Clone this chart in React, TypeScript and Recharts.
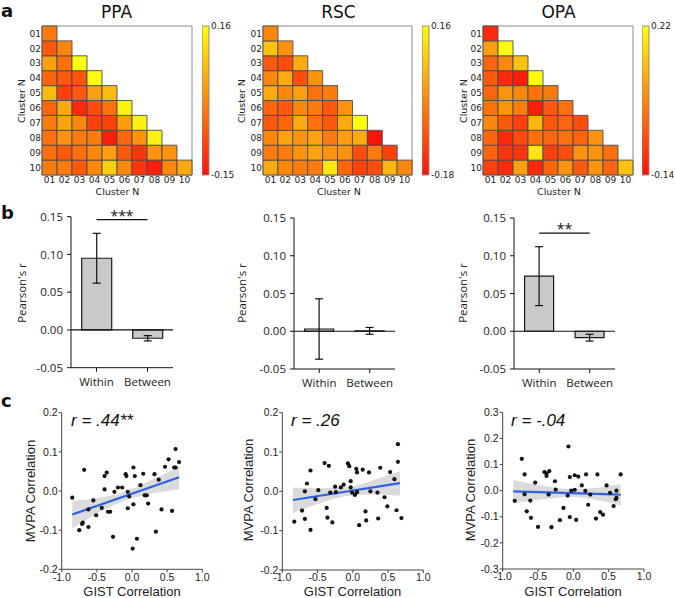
import React from 'react';
import {
  BarChart, Bar, XAxis, YAxis, Cell, ReferenceArea, ReferenceLine, ErrorBar,
  ComposedChart, Scatter, Line, Area,
} from 'recharts';

// ---------- heatmap data (panel a) ----------
const clusterLabels = ['01', '02', '03', '04', '05', '06', '07', '08', '09', '10'];

const ppaMatrix = [
  [-0.011],
  [-0.057, 0.005],
  [0.036, -0.026, 0.16],
  [-0.042, -0.057, -0.063, 0.16],
  [0.073, -0.088, -0.057, 0.036, 0.073],
  [-0.042, 0.052, -0.119, -0.073, -0.026, 0.145],
  [-0.011, 0.042, 0.005, -0.088, -0.088, 0.036, 0.145],
  [-0.026, 0.021, -0.011, -0.011, -0.134, -0.042, 0.021, 0.145],
  [-0.026, -0.057, -0.026, 0.005, 0.036, -0.057, -0.104, 0.021, 0.021],
  [-0.011, -0.011, -0.057, 0.005, 0.098, 0.005, -0.104, -0.134, 0.005, 0.052],
];
const rscMatrix = [
  [-0.01],
  [0.075, 0.007],
  [-0.078, -0.095, 0.041],
  [-0.01, 0.041, -0.095, 0.007],
  [0.041, -0.01, 0.024, -0.044, -0.027],
  [-0.061, -0.078, -0.01, -0.027, -0.078, 0.007],
  [-0.078, -0.061, 0.041, -0.044, -0.078, 0.041, 0.16],
  [-0.01, 0.031, 0.007, 0.031, -0.027, 0.024, 0.041, -0.18],
  [-0.027, -0.027, 0.007, 0.031, 0.007, 0.007, -0.095, -0.027, -0.112],
  [0.041, -0.01, -0.027, -0.027, 0.126, -0.061, -0.112, -0.095, 0.058, -0.01],
];
const opaMatrix = [
  [-0.104],
  [0.076, 0.22],
  [-0.014, 0.04, 0.13],
  [-0.032, -0.104, -0.122, 0.22],
  [-0.014, 0.058, 0.04, 0.004, 0.022],
  [0.004, 0.058, 0.022, -0.122, -0.032, 0.004],
  [0.04, -0.032, -0.068, 0.112, -0.032, -0.014, -0.05],
  [-0.014, -0.104, -0.05, 0.004, -0.014, 0.004, -0.014, 0.058],
  [-0.014, -0.086, -0.086, 0.184, -0.068, -0.05, 0.058, 0.058, 0.004],
  [-0.068, -0.104, 0.076, -0.104, -0.014, 0.058, -0.032, 0.058, -0.014, 0.13],
];
const ppaRange = [-0.15, 0.16];
const rscRange = [-0.18, 0.16];
const opaRange = [-0.14, 0.22];

// ---------- bar data (panel b) ----------
const barCategories = ['Within', 'Between'];
const barTicks = [-0.05, 0, 0.05, 0.1, 0.15];
const ppaBarMeans = [0.095, -0.011];
const ppaBarErrs = [0.033, 0.0035];
const rscBarMeans = [0.003, 0.0005];
const rscBarErrs = [0.04, 0.0045];
const opaBarMeans = [0.073, -0.0085];
const opaBarErrs = [0.039, 0.0045];

// ---------- scatter data (panel c) ----------
const gistTicks = [-1, -0.5, 0, 0.5, 1];
const ppaGist = [-0.85, -0.75, -0.71, -0.70, -0.68, -0.62, -0.62, -0.55, -0.51, -0.43, -0.39, -0.36, -0.39, -0.34, -0.31, -0.27, -0.25, -0.20, -0.14, -0.09, -0.08, -0.06, -0.06, -0.04, 0.02, 0.04, 0.02, 0.01, 0.07, 0.12, 0.16, 0.18, 0.21, 0.23, 0.32, 0.34, 0.38, 0.42, 0.47, 0.52, 0.57, 0.60, 0.62, 0.62, 0.67];
const ppaMvpa = [-0.017, -0.100, -0.084, -0.081, 0.054, -0.092, -0.047, -0.024, -0.062, -0.043, 0.038, 0.047, 0.004, -0.053, -0.053, -0.117, -0.002, 0.009, 0.009, 0.043, 0.038, -0.044, -0.002, -0.014, 0.060, 0.038, -0.034, -0.147, -0.122, 0.015, 0.044, -0.011, -0.011, -0.032, 0.043, -0.104, 0.029, -0.047, 0.062, 0.081, -0.051, 0.060, 0.060, 0.107, 0.074];
const ppaFitX = [-0.85, 0.67];
const ppaFitY = [-0.06, 0.035];
const ppaBandX = [-0.85, -0.5, -0.1, 0.3, 0.67];
const ppaBandLo = [-0.095, -0.058, -0.025, -0.006, 0.004];
const ppaBandHi = [-0.025, -0.018, -0.001, 0.030, 0.062];

const rscGist = [-0.83, -0.72, -0.68, -0.68, -0.65, -0.60, -0.60, -0.53, -0.49, -0.40, -0.37, -0.36, -0.34, -0.32, -0.29, -0.25, -0.24, -0.17, -0.13, -0.07, -0.05, -0.03, -0.03, -0.01, 0.03, 0.05, 0.06, 0.06, 0.09, 0.14, 0.18, 0.19, 0.23, 0.25, 0.35, 0.36, 0.39, 0.45, 0.49, 0.53, 0.59, 0.62, 0.64, 0.64, 0.69];
const rscMvpa = [-0.077, -0.049, -0.070, 0.0, 0.020, 0.053, -0.098, -0.020, 0.003, 0.072, -0.042, -0.067, 0.065, -0.003, -0.079, 0.012, -0.002, 0.010, 0.017, 0.071, 0.064, 0.026, 0.010, -0.003, -0.009, 0.057, 0.048, -0.002, -0.086, 0.055, -0.051, -0.074, 0.048, 0.0, -0.003, -0.069, 0.060, -0.015, -0.038, 0.049, 0.031, -0.048, 0.075, 0.120, -0.068];
const rscFitX = [-0.85, 0.67];
const rscFitY = [-0.022, 0.021];
const rscBandX = [-0.85, -0.5, -0.05, 0.3, 0.67];
const rscBandLo = [-0.055, -0.032, -0.011, -0.008, -0.011];
const rscBandHi = [0.010, 0.008, 0.012, 0.029, 0.051];

const opaGist = [-0.83, -0.73, -0.69, -0.69, -0.66, -0.61, -0.60, -0.54, -0.50, -0.41, -0.38, -0.38, -0.34, -0.35, -0.31, -0.26, -0.25, -0.19, -0.14, -0.08, -0.07, -0.05, -0.05, -0.03, 0.02, 0.02, 0.04, 0.07, 0.12, 0.17, 0.18, 0.21, 0.24, 0.32, 0.34, 0.38, 0.42, 0.47, 0.52, 0.57, 0.60, 0.61, 0.61, 0.67];
const opaMvpa = [-0.039, 0.122, 0.062, -0.014, -0.079, -0.038, -0.104, 0.031, -0.139, 0.071, 0.066, 0.056, 0.075, -0.015, -0.140, 0.036, 0.004, -0.113, -0.066, -0.019, 0.169, 0.052, -0.101, 0.0, 0.059, 0.003, -0.112, 0.054, 0.020, -0.001, 0.062, -0.054, -0.015, -0.107, 0.062, -0.082, -0.092, 0.020, -0.008, -0.059, -0.033, -0.028, 0.0, 0.062];
const opaFitX = [-0.85, 0.67];
const opaFitY = [-0.003, -0.015];
const opaBandX = [-0.85, -0.4, -0.05, 0.3, 0.67];
const opaBandLo = [-0.048, -0.032, -0.024, -0.034, -0.057];
const opaBandHi = [0.041, 0.018, 0.006, 0.010, 0.025];

// ---------- helpers ----------
const DV = 'DejaVu Sans';
const OS = 'Open Sans';
const AR = 'Liberation Sans';

function autumn(v: number | null, lo: number, hi: number) {
  if (v == null) return 'none';
  const t = Math.max(0, Math.min(1, (v - lo) / (hi - lo)));
  const g = Math.round(18 + 234 * t);
  return `rgb(252,${g},${Math.round(12 + 6 * t)})`;
}

function buildHeat(matrix: number[][]) {
  return clusterLabels.map((lab, j) => {
    const row: any = { col: lab };
    for (let i = 0; i < 10; i++) {
      row[`r${i}`] = i >= j ? 1 : 0;
      row[`v${i}`] = i >= j ? matrix[i][j] : null;
    }
    return row;
  });
}

const rowOrder = [9, 8, 7, 6, 5, 4, 3, 2, 1, 0];
const rowTicks = [9.5, 8.5, 7.5, 6.5, 5.5, 4.5, 3.5, 2.5, 1.5, 0.5];

function Heatmap({ matrix, range, left, plotLeft, plotRight }: any) {
  const data = buildHeat(matrix);
  const [lo, hi] = range;
  return (
    <div style={{ position: 'absolute', left, top: 0 }}>
      <BarChart width={225} height={200} data={data} barCategoryGap={0}
        margin={{ top: 26, right: 225 - plotRight, left: 0, bottom: 0 }}>
        <XAxis dataKey="col" type="category" height={25} tickLine={false} axisLine={false}
          tickSize={0} tickMargin={2} interval={0}
          tick={{ fontSize: 9, fill: '#222', fontFamily: DV }} />
        <YAxis type="number" domain={[0, 10]} ticks={rowTicks} width={plotLeft} interval={0}
          tickLine={false} axisLine={false} tickSize={0} tickMargin={1}
          tickFormatter={(v: number) => clusterLabels[9 - Math.floor(v)]}
          tick={{ fontSize: 9, fill: '#222', fontFamily: DV }} />
        {rowOrder.map((i) => (
          <Bar key={i} dataKey={`r${i}`} stackId="s" isAnimationActive={false}
            stroke="#4d4d4d" strokeWidth={0.9}>
            {data.map((d: any, j: number) => (
              <Cell key={j} fill={autumn(d[`v${i}`], lo, hi)} />
            ))}
          </Bar>
        ))}
        <ReferenceArea x1="01" x2="10" y1={0} y2={10} fill="none" stroke="#8c8c8c"
          strokeWidth={1} ifOverflow="visible" />
      </BarChart>
    </div>
  );
}

function Colorbar({ range, left, id }: any) {
  const data = [{ name: 'cb', span: range }];
  return (
    <div style={{ position: 'absolute', left, top: 0 }}>
      <BarChart width={42} height={200} data={data} barCategoryGap={0}
        margin={{ top: 26, right: 0, left: 0, bottom: 25 }}>
        <defs>
          <linearGradient id={id} x1="0" y1="0" x2="0" y2="1">
            <stop offset="0" stopColor="rgb(252,252,16)" />
            <stop offset="0.5" stopColor="rgb(252,135,14)" />
            <stop offset="1" stopColor="rgb(252,18,12)" />
          </linearGradient>
        </defs>
        <XAxis dataKey="name" hide />
        <YAxis orientation="right" type="number" domain={range} ticks={range} width={35}
          tickLine={false} axisLine={false} tickSize={0} tickMargin={2} interval={0}
          tickFormatter={(v: number) => v.toFixed(2)}
          tick={{ fontSize: 9, fill: '#222', fontFamily: DV }} />
        <Bar dataKey="span" fill={`url(#${id})`} stroke="#8c8c8c" strokeWidth={1}
          isAnimationActive={false} />
      </BarChart>
    </div>
  );
}

function PearsonBars({ means, errs, left, plotLeft, plotRight, plotTop, plotBottom, sig, sigY }: any) {
  const data = barCategories.map((c, i) => ({ cat: c, mean: means[i], err: errs[i] }));
  return (
    <div style={{ position: 'absolute', left, top: 195 }}>
      <BarChart width={225} height={200} data={data} barCategoryGap="21%"
        margin={{ top: plotTop, right: 225 - plotRight, left: 0, bottom: 0 }}>
        <XAxis dataKey="cat" height={200 - plotBottom} tickSize={4} tickMargin={6} interval={0}
          stroke="#111" tick={{ fontSize: 11.5, fill: '#222', fontFamily: OS }} />
        <YAxis type="number" domain={[-0.05, 0.15]} ticks={barTicks} width={plotLeft} interval={0}
          tickSize={4} tickMargin={4} stroke="#111"
          tickFormatter={(v: number) => v.toFixed(2)}
          tick={{ fontSize: 11.5, fill: '#222', fontFamily: OS }} />
        <Bar dataKey="mean" fill="#c9c9c9" stroke="#1a1a1a" strokeWidth={1.2} isAnimationActive={false}>
          <ErrorBar dataKey="err" width={4} stroke="#111" strokeWidth={1.2} direction="y" />
        </Bar>
        <ReferenceLine y={0} stroke="#111" strokeWidth={1.2} />
        {sig ? (
          <ReferenceLine segment={[{ x: 'Within', y: sigY }, { x: 'Between', y: sigY }]}
            stroke="#111" strokeWidth={1.3} ifOverflow="visible"
            label={{ value: sig, position: 'top', offset: -1, fill: '#111', fontSize: 14, fontFamily: OS }} />
        ) : null}
      </BarChart>
    </div>
  );
}

function zip(xs: number[], ys: number[]) {
  return xs.map((x, i) => ({ x, y: ys[i] }));
}

function GistScatter({ gist, mvpa, fitX, fitY, bandX, bandLo, bandHi, yTicks, left, plotLeft, plotRight, plotTop, plotBottom }: any) {
  const points = zip(gist, mvpa);
  const fit = zip(fitX, fitY);
  const band = bandX.map((x: number, i: number) => ({ x, range: [bandLo[i], bandHi[i]] }));
  const yMin = yTicks[0];
  const yMax = yTicks[yTicks.length - 1];
  return (
    <div style={{ position: 'absolute', left, top: 390 }}>
      <ComposedChart width={225} height={208}
        margin={{ top: plotTop, right: 225 - plotRight, left: 0, bottom: 0 }}>
        <XAxis dataKey="x" type="number" domain={[-1, 1]} ticks={gistTicks} height={208 - plotBottom}
          allowDataOverflow tickSize={3} tickMargin={1} interval={0} stroke="#444"
          tickFormatter={(v: number) => v.toFixed(1)}
          tick={{ fontSize: 10.5, fill: '#222', fontFamily: AR }} />
        <YAxis type="number" domain={[yMin, yMax]} ticks={yTicks} width={plotLeft}
          allowDataOverflow tickSize={3} tickMargin={1} interval={0} stroke="#444"
          tickFormatter={(v: number) => v.toFixed(1)}
          tick={{ fontSize: 10.5, fill: '#222', fontFamily: AR }} />
        <Area data={band} dataKey="range" type="monotone" stroke="none" fill="#cfcfcf"
          fillOpacity={0.75} isAnimationActive={false} />
        <Scatter data={points} dataKey="y" isAnimationActive={false}
          shape={(p: any) => <circle cx={p.cx} cy={p.cy} r={2.1} fill="#111" />} />
        <Line data={fit} dataKey="y" type="linear" stroke="#2f63e3" strokeWidth={2.2}
          dot={false} isAnimationActive={false} />
      </ComposedChart>
    </div>
  );
}

export default function App() {
  return (
    <div style={{ position: 'absolute', left: 0, top: 0, width: 675, height: 598, background: '#fff', overflow: 'hidden' }}>
      <Heatmap matrix={ppaMatrix} range={ppaRange} left={0} plotLeft={42} plotRight={192} />
      <Heatmap matrix={rscMatrix} range={rscRange} left={225} plotLeft={38} plotRight={187} />
      <Heatmap matrix={opaMatrix} range={opaRange} left={450} plotLeft={33} plotRight={183} />
      <Colorbar range={ppaRange} left={202} id="cbPPA" />
      <Colorbar range={rscRange} left={422} id="cbRSC" />
      <Colorbar range={opaRange} left={642} id="cbOPA" />

      <PearsonBars means={ppaBarMeans} errs={ppaBarErrs} left={0} plotLeft={71} plotRight={173}
        plotTop={21.7} plotBottom={172.7} sig="***" sigY={0.146} />
      <PearsonBars means={rscBarMeans} errs={rscBarErrs} left={225} plotLeft={69} plotRight={170}
        plotTop={23} plotBottom={174} />
      <PearsonBars means={opaBarMeans} errs={opaBarErrs} left={450} plotLeft={64} plotRight={165}
        plotTop={23} plotBottom={174} sig="**" sigY={0.13} />

      <GistScatter gist={ppaGist} mvpa={ppaMvpa} fitX={ppaFitX} fitY={ppaFitY}
        bandX={ppaBandX} bandLo={ppaBandLo} bandHi={ppaBandHi}
        yTicks={[-0.2, -0.1, 0, 0.1, 0.2]} left={0} plotLeft={61.7} plotRight={202.3}
        plotTop={22.7} plotBottom={179.3} />
      <GistScatter gist={rscGist} mvpa={rscMvpa} fitX={rscFitX} fitY={rscFitY}
        bandX={rscBandX} bandLo={rscBandLo} bandHi={rscBandHi}
        yTicks={[-0.2, -0.1, 0, 0.1, 0.2]} left={225} plotLeft={57.3} plotRight={198.3}
        plotTop={22.7} plotBottom={180} />
      <GistScatter gist={opaGist} mvpa={opaMvpa} fitX={opaFitX} fitY={opaFitY}
        bandX={opaBandX} bandLo={opaBandLo} bandHi={opaBandHi}
        yTicks={[-0.3, -0.2, -0.1, 0, 0.1, 0.2, 0.3]} left={450} plotLeft={52.7} plotRight={194}
        plotTop={22.3} plotBottom={179} />

      <svg width={675} height={598} style={{ position: 'absolute', left: 0, top: 0, pointerEvents: 'none' }}>
        <g fontFamily={DV} fontWeight="bold" fontSize={18} fill="#111">
          <text x={1} y={17}>a</text>
          <text x={1} y={219}>b</text>
          <text x={1} y={407}>c</text>
        </g>
        <g fontFamily={DV} fontSize={17} fill="#111" textAnchor="middle">
          <text x={116.5} y={18}>PPA</text>
          <text x={338.5} y={18}>RSC</text>
          <text x={558.5} y={18}>OPA</text>
        </g>
        <g fontFamily={DV} fontSize={9.5} fill="#222" textAnchor="middle">
          <text x={117.5} y={195}>Cluster N</text>
          <text x={339} y={195}>Cluster N</text>
          <text x={559} y={195}>Cluster N</text>
          <text transform="translate(25,101) rotate(-90)">Cluster N</text>
          <text transform="translate(245,101) rotate(-90)">Cluster N</text>
          <text transform="translate(467,101) rotate(-90)">Cluster N</text>
        </g>
        <g fontFamily={OS} fontSize={11.5} fill="#222" textAnchor="middle">
          <text transform="translate(26,293) rotate(-90)">Pearson's r</text>
          <text transform="translate(246,293) rotate(-90)">Pearson's r</text>
          <text transform="translate(467,293) rotate(-90)">Pearson's r</text>
        </g>
        <g fontFamily={AR} fontSize={13} fill="#222" textAnchor="middle">
          <text x={132} y={596}>GIST Correlation</text>
          <text x={352.5} y={596}>GIST Correlation</text>
          <text x={573} y={596}>GIST Correlation</text>
          <text transform="translate(35,491) rotate(-90)">MVPA Correlation</text>
          <text transform="translate(253,490) rotate(-90)">MVPA Correlation</text>
          <text transform="translate(475,490) rotate(-90)">MVPA Correlation</text>
        </g>
        <g fontFamily={AR} fontSize={17} fontStyle="italic" fill="#111">
          <text x={71} y={426}>r = .44**</text>
          <text x={291} y={426}>r = .26</text>
          <text x={511} y={426}>r = -.04</text>
        </g>
      </svg>
    </div>
  );
}
